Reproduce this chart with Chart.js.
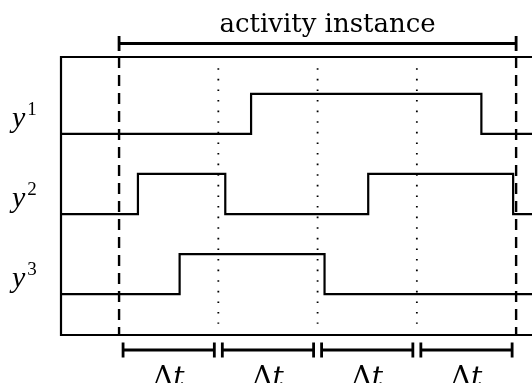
<!DOCTYPE html>
<html>
<head>
<meta charset="utf-8">
<script src="https://cdn.jsdelivr.net/npm/chart.js@4/dist/chart.umd.min.js"></script>
<style>
  html, body { margin: 0; padding: 0; background: #fff; overflow: hidden; }
  #wrap { width: 532px; height: 383px; }
</style>
</head>
<body>
<div id="wrap"><canvas id="timing"></canvas></div>
<script>
// time axis in units of Δt, 0 = start of the activity instance
const xMin = -0.585, xMax = 4.16;
const yMin = -0.51, yMax = 2.96;

// switching times and the level each signal takes after the switch
const y1Times = [xMin, 1.33, 3.65, xMax];
const y1Levels = [0, 1, 0, 0];
const y2Times = [xMin, 0.19, 1.07, 2.51, 3.97, xMax];
const y2Levels = [0, 1, 0, 1, 0, 0];
const y3Times = [xMin, 0.61, 2.07, xMax];
const y3Levels = [0, 1, 0, 0];

const signalNames = ['1', '2', '3'];   // superscripts of y
const rowBase = [2, 1, 0];             // baseline of each row
const stepHeight = 0.5;

const instanceEdges = [0, 4];          // dashed
const sampleMarks = [1, 2, 3];         // dotted
const intervals = [[0, 1], [1, 2], [2, 3], [3, 4]];
const intervalLabel = ['Δ', 't'];
const instanceLabel = 'activity instance';

const traces = [[y1Times, y1Levels], [y2Times, y2Levels], [y3Times, y3Levels]];

const datasets = [];
traces.forEach(([ts, lv], i) => {
  datasets.push({
    data: ts.map((t, k) => ({ x: t, y: rowBase[i] + lv[k] * stepHeight })),
    stepped: 'before',
    borderColor: '#000', borderWidth: 2.2,
    pointRadius: 0, fill: false,
  });
});
instanceEdges.forEach(t => datasets.push({
  data: [{ x: t, y: yMax }, { x: t, y: yMin }],
  borderColor: '#000', borderWidth: 2.4, borderDash: [11, 7],
  pointRadius: 0, fill: false,
}));
sampleMarks.forEach(t => datasets.push({
  data: [{ x: t, y: 2.82 }, { x: t, y: -0.37 }],
  borderColor: '#000', borderWidth: 1.8, borderDash: [1.6, 9],
  pointRadius: 0, fill: false,
}));

const annotate = {
  id: 'annotate',
  beforeDatasetsDraw(chart) {
    const { ctx, chartArea: a } = chart;
    ctx.save();
    ctx.strokeStyle = '#000';
    ctx.lineWidth = 2.2;
    // box, open on the right where the figure is cut off
    ctx.beginPath();
    ctx.moveTo(a.right + 2, a.top);
    ctx.lineTo(a.left, a.top);
    ctx.lineTo(a.left, a.bottom);
    ctx.lineTo(a.right + 2, a.bottom);
    ctx.stroke();
    ctx.restore();
  },
  afterDraw(chart) {
    const { ctx, chartArea: a, scales: { x, y } } = chart;
    ctx.save();
    ctx.strokeStyle = '#000';
    ctx.fillStyle = '#000';
    ctx.lineWidth = 2.8;

    const bracket = (x0, x1, yy, half) => {
      ctx.beginPath();
      ctx.moveTo(x0, yy); ctx.lineTo(x1, yy);
      ctx.moveTo(x0, yy - half); ctx.lineTo(x0, yy + half);
      ctx.moveTo(x1, yy - half); ctx.lineTo(x1, yy + half);
      ctx.stroke();
    };

    // activity instance bracket
    const topY = a.top - 13.5;
    bracket(x.getPixelForValue(instanceEdges[0]), x.getPixelForValue(instanceEdges[1]), topY, 7.5);
    ctx.font = '26px "DejaVu Serif"';
    ctx.textAlign = 'center';
    ctx.textBaseline = 'alphabetic';
    ctx.fillText(instanceLabel, x.getPixelForValue(2.1), topY - 12);

    // Δt brackets
    const botY = a.bottom + 15;
    intervals.forEach(([t0, t1]) => {
      const p0 = x.getPixelForValue(t0) + 4, p1 = x.getPixelForValue(t1) - 4;
      bracket(p0, p1, botY, 7.5);
      ctx.font = '28px "DejaVu Serif"';
      const w1 = ctx.measureText(intervalLabel[0]).width;
      ctx.font = 'italic 28px "DejaVu Serif"';
      const w2 = ctx.measureText(intervalLabel[1]).width;
      const sx = (p0 + p1) / 2 - (w1 + w2) / 2;
      ctx.textAlign = 'left';
      ctx.font = '28px "DejaVu Serif"';
      ctx.fillText(intervalLabel[0], sx, botY + 36);
      ctx.font = 'italic 28px "DejaVu Serif"';
      ctx.fillText(intervalLabel[1], sx + w1, botY + 36);
    });

    // row labels y^1, y^2, y^3
    signalNames.forEach((s, i) => {
      const base = y.getPixelForValue(rowBase[i]) - 7;
      ctx.textAlign = 'left';
      ctx.font = 'italic 30px "Liberation Serif"';
      ctx.fillText('y', 12, base);
      const wy = ctx.measureText('y').width;
      ctx.font = '19px "Liberation Serif"';
      ctx.fillText(s, 12 + wy + 2, base - 12);
    });
    ctx.restore();
  }
};

new Chart(document.getElementById('timing'), {
  type: 'line',
  data: { datasets },
  options: {
    responsive: true,
    maintainAspectRatio: false,
    animation: false,
    layout: { padding: { left: 61, top: 57, right: 0, bottom: 48 } },
    plugins: { legend: { display: false }, tooltip: { enabled: false } },
    scales: {
      x: { type: 'linear', min: xMin, max: xMax, display: false },
      y: { type: 'linear', min: yMin, max: yMax, display: false },
    },
  },
  plugins: [annotate],
});
</script>
</body>
</html>
